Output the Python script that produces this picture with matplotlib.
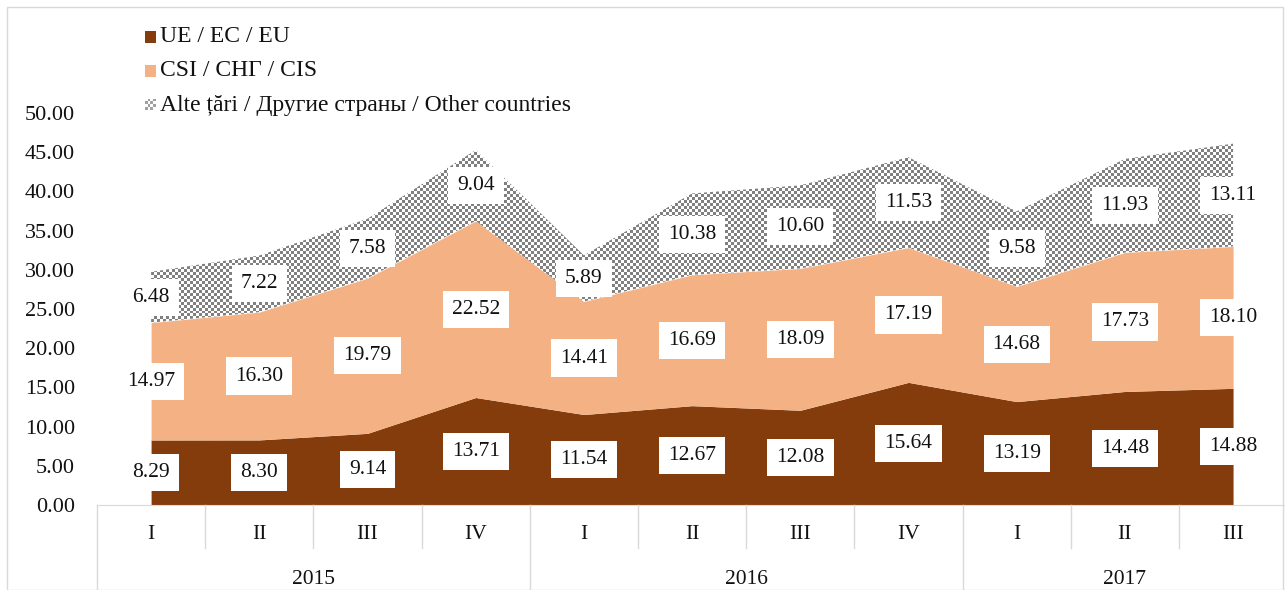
import numpy as np
import matplotlib
matplotlib.use("Agg")
from matplotlib import pyplot as plt
from matplotlib.patches import Rectangle

plt.rcParams['font.family'] = ['Liberation Serif', 'DejaVu Serif']

quarters = ['I', 'II', 'III', 'IV', 'I', 'II', 'III', 'IV', 'I', 'II', 'III']
years = ['2015', '2016', '2017']
year_len = [4, 4, 3]
eu = [8.29, 8.30, 9.14, 13.71, 11.54, 12.67, 12.08, 15.64, 13.19, 14.48, 14.88]
cis = [14.97, 16.30, 19.79, 22.52, 14.41, 16.69, 18.09, 17.19, 14.68, 17.73, 18.10]
other = [6.48, 7.22, 7.58, 9.04, 5.89, 10.38, 10.60, 11.53, 9.58, 11.93, 13.11]
names = ['UE / EC / EU', 'CSI / СНГ / CIS', 'Alte țări / Другие страны / Other countries']

c_eu = '#843c0c'
c_cis = '#f4b183'
c_chk = '#808080'

W, H = 1285, 590
fig = plt.figure(figsize=(W / 100, H / 100), dpi=100)
# chart border
fig.patches.append(Rectangle((7 / W, 0), (W - 9) / W, (H - 7) / H, transform=fig.transFigure,
                             fill=False, edgecolor='#d9d9d9', lw=1))

ax = fig.add_axes([97 / W, (H - 505) / H, (W - 97) / W, 392 / H])
x = np.arange(len(eu))
eu_a = np.array(eu)
cis_a = np.array(cis)
oth_a = np.array(other)
b1 = eu_a
b2 = eu_a + cis_a
b3 = b2 + oth_a

ax.fill_between(x, 0, b1, color=c_eu, lw=0)
ax.fill_between(x, b1, b2, color=c_cis, lw=0)
poly = ax.fill_between(x, b2, b3, facecolor='none', lw=0)

# checkerboard fill for "other"
sq = 3
nx, ny = (W - 97) // sq + 1, 392 // sq + 1
chk = (np.add.outer(np.arange(ny), np.arange(nx)) % 2).astype(float)
xlim = (-0.5, 10.48)
ylim = (0, 50)
im = ax.imshow(chk, cmap=matplotlib.colors.ListedColormap(['white', c_chk]),
               extent=(xlim[0], xlim[1], ylim[0], ylim[1]), aspect='auto',
               interpolation='nearest', origin='lower', zorder=1)
im.set_clip_path(poly.get_paths()[0], transform=ax.transData)

ax.set_xlim(*xlim)
ax.set_ylim(*ylim)

for s in ['top', 'right', 'left']:
    ax.spines[s].set_visible(False)
ax.spines['bottom'].set_color('#d9d9d9')
ax.set_yticks(np.arange(0, 51, 5))
ax.set_yticklabels([f'{v:.2f}' for v in np.arange(0, 51, 5)])
ax.tick_params(axis='y', length=0, pad=16, labelsize=16, labelcolor='#111111')
ax.set_xticks([])

# data labels
bbox = dict(boxstyle='square,pad=0.42', facecolor='white', edgecolor='none')
for i in range(len(x)):
    for lo, v in [(0, eu[i]), (b1[i], cis[i]), (b2[i], other[i])]:
        ax.text(x[i], lo + v / 2, f'{v:.2f}', ha='center', va='center', fontsize=15.5,
                color='#111111', bbox=bbox, zorder=5)

# category axis
tr = ax.get_xaxis_transform()
for i, q in enumerate(quarters):
    ax.text(x[i], -0.074, q, ha='center', va='center', fontsize=15.5, transform=tr, color='#111111')
bounds = np.cumsum([0] + year_len)
for k in range(len(x)):
    edge = k - 0.5
    if k in bounds:
        ax.plot([edge, edge], [0, -0.22], color='#d9d9d9', lw=1, transform=tr, clip_on=False)
    else:
        ax.plot([edge, edge], [0, -0.11], color='#d9d9d9', lw=1, transform=tr, clip_on=False)
for j, yr in enumerate(years):
    mid = (bounds[j] + bounds[j + 1] - 1) / 2
    ax.text(mid, -0.19, yr, ha='center', va='center', fontsize=15.5, transform=tr, color='#111111')

# legend
rows = [37, 71, 105]
for r, name, col in zip(rows, names, [c_eu, c_cis, None]):
    yb = (H - r - 5.5) / H
    if col is not None:
        fig.patches.append(Rectangle((145 / W, yb), 11 / W, 11 / H, transform=fig.transFigure,
                                     facecolor=col, edgecolor='none'))
    else:
        lax = fig.add_axes([145 / W, yb, 11 / W, 11 / H])
        lax.imshow(np.add.outer(np.arange(4), np.arange(4)) % 2,
                   cmap=matplotlib.colors.ListedColormap(['white', '#a0a0a0']),
                   interpolation='nearest', aspect='auto')
        lax.axis('off')
    fig.text(160 / W, (H - r) / H, name, ha='left', va='center', fontsize=17, color='#111111')

fig.savefig('out.png', dpi=100)
